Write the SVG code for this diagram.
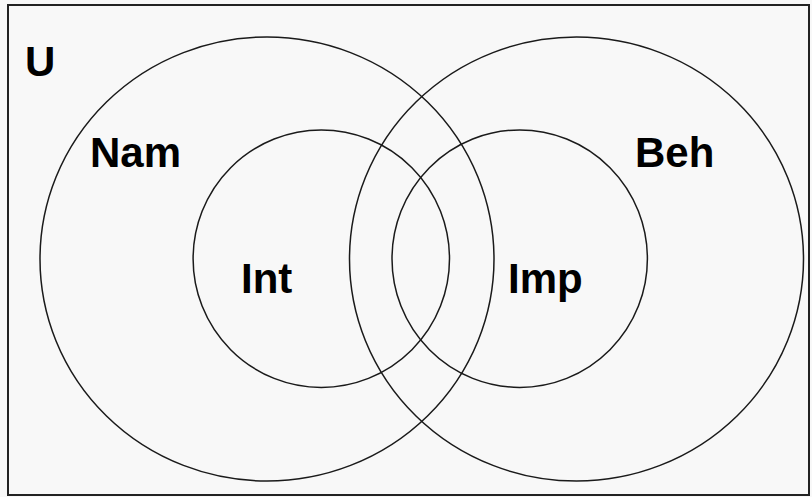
<svg xmlns="http://www.w3.org/2000/svg" width="812" height="497" viewBox="0 0 812 497">
  <style>
    .set { fill: none; stroke: #1a1a1a; stroke-width: 1.5; }
    .lbl { font-family: "Liberation Sans", Arial, sans-serif; font-weight: bold; font-size: 42px; fill: #000; }
  </style>
  <rect x="0" y="0" width="812" height="497" fill="#f8f8f8"/>
  <!-- universe frame -->
  <g id="universe">
    <rect x="8" y="5" width="801" height="490" fill="none" stroke="#222" stroke-width="2"/>
    <text class="lbl" x="25" y="76">U</text>
  </g>
  <g id="nam">
    <ellipse class="set" cx="267" cy="259" rx="227" ry="222"/>
    <text class="lbl" x="90" y="167">Nam</text>
  </g>
  <g id="beh">
    <ellipse class="set" cx="576.5" cy="259" rx="227" ry="222"/>
    <text class="lbl" x="635" y="167">Beh</text>
  </g>
  <g id="int">
    <ellipse class="set" cx="321.3" cy="258.7" rx="128.2" ry="128.7"/>
    <text class="lbl" x="241" y="293">Int</text>
  </g>
  <g id="imp">
    <ellipse class="set" cx="519.7" cy="258.7" rx="127.7" ry="128.7"/>
    <text class="lbl" x="508" y="293">Imp</text>
  </g>
</svg>
